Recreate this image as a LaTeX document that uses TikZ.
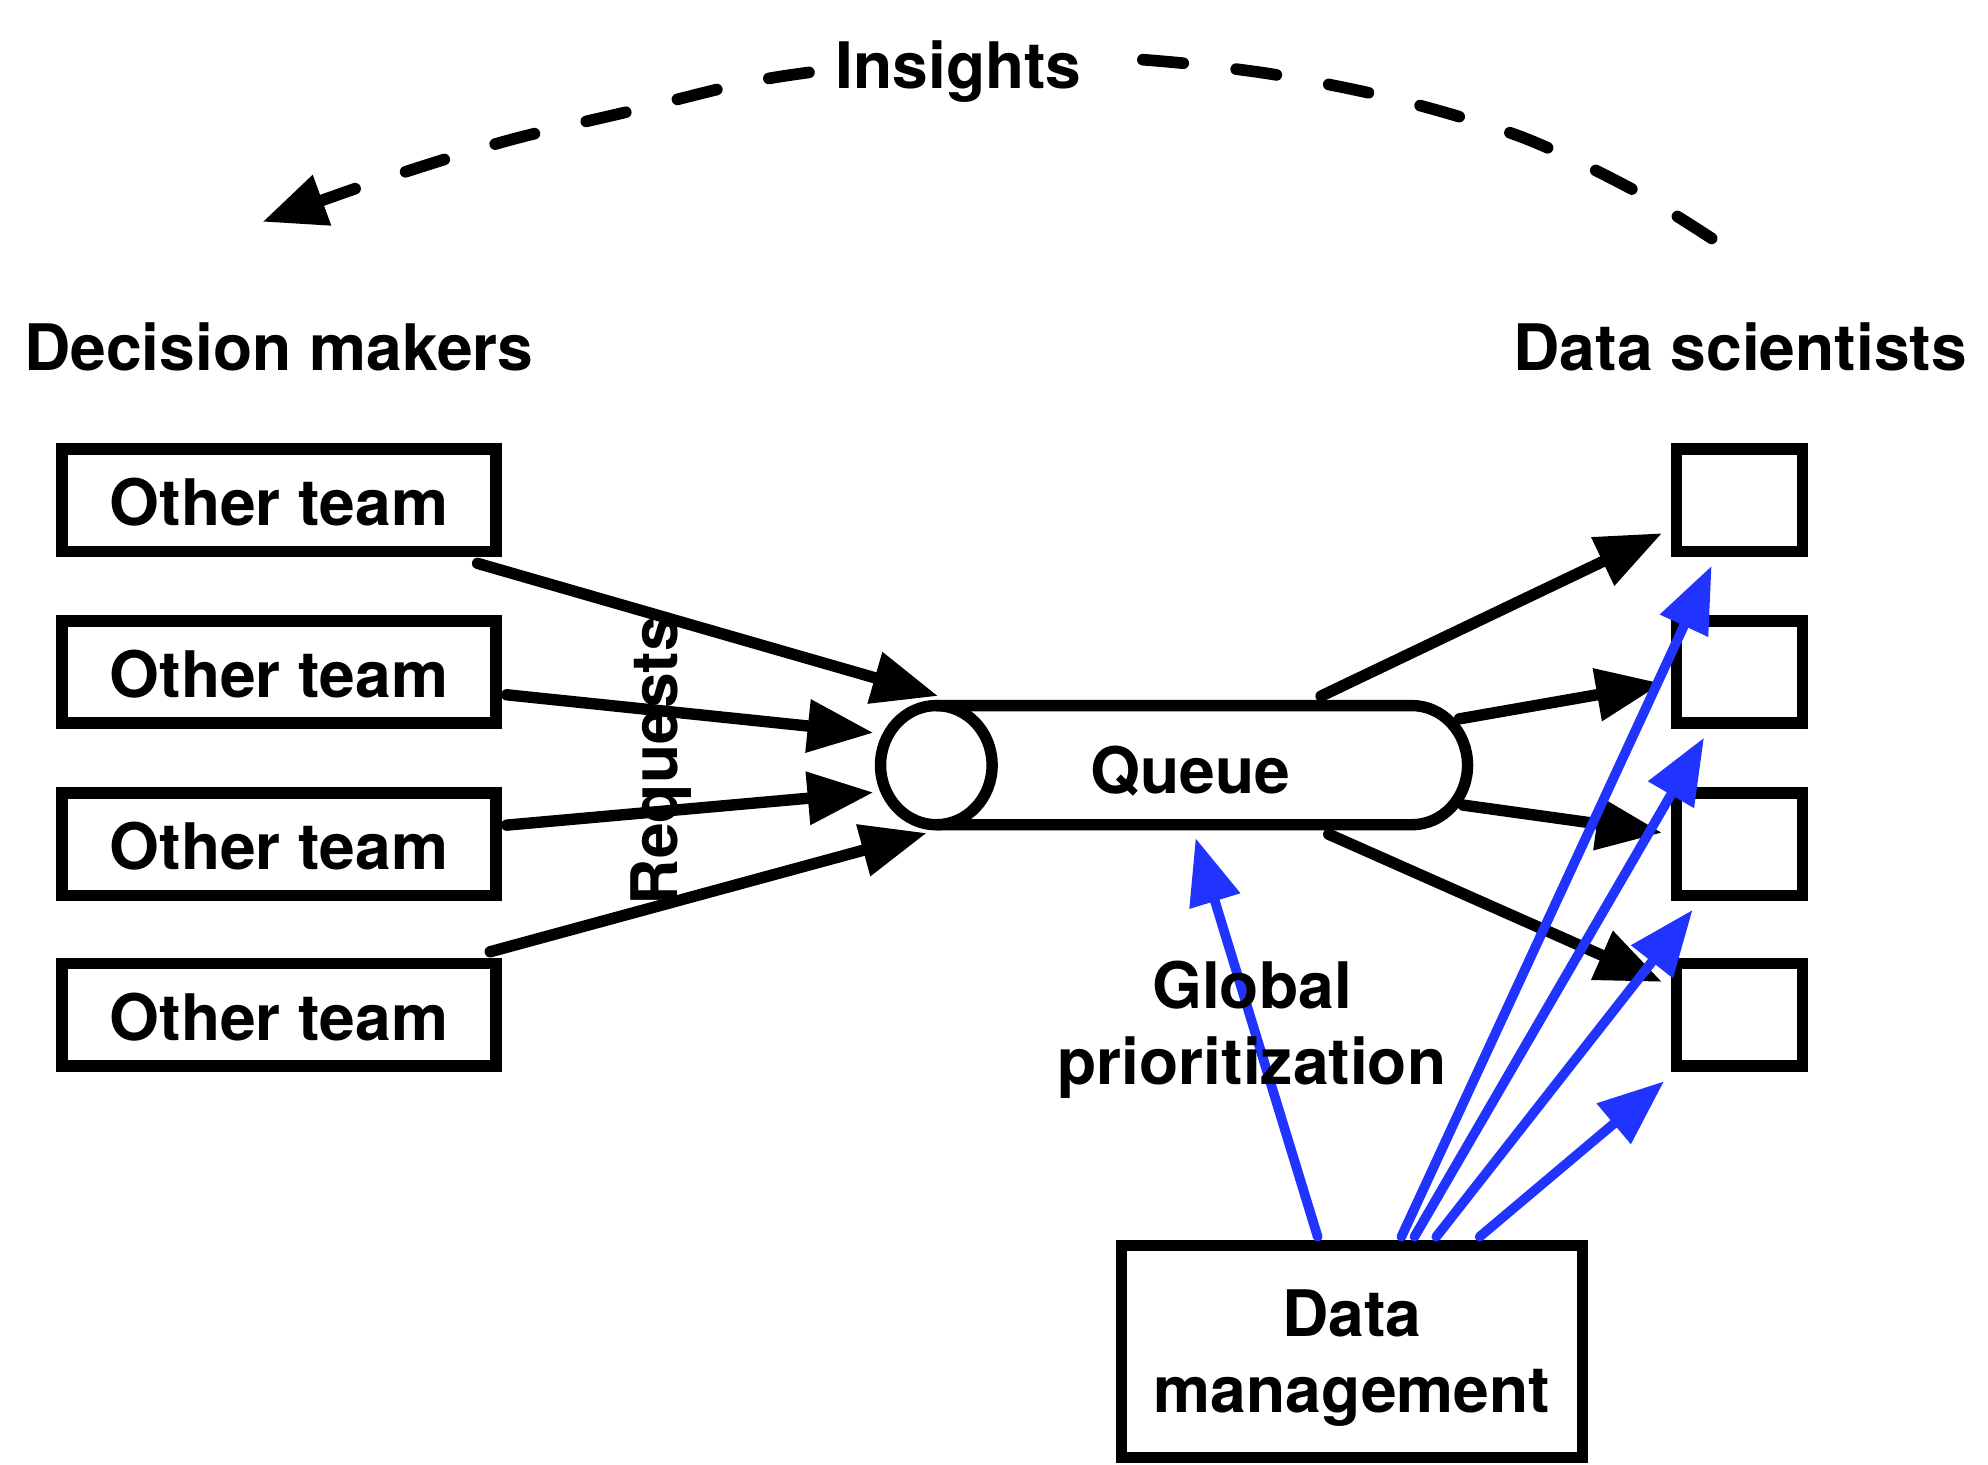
\documentclass[tikz,border=0pt]{standalone}
\usepackage{fontspec}
\setmainfont{TeX Gyre Heros}
\usetikzlibrary{arrows.meta}
\definecolor{dmblue}{RGB}{33,51,255}
\begin{document}
\begin{tikzpicture}[x=0.5pt,y=-0.5pt,
  lbl/.style={font=\fontsize{25.3}{30}\selectfont\bfseries, inner sep=0pt},
  teambox/.style={lbl, draw, line width=4.5pt, minimum width=171.2pt, minimum height=40.35pt, text height=20.2pt, text depth=0pt},
  dsbox/.style={draw, line width=4.5pt, minimum width=49.5pt, minimum height=40.35pt, inner sep=0pt},
  dmbox/.style={lbl, draw, line width=4.5pt, minimum width=181.8pt, minimum height=83.5pt, align=center, text depth=-4pt},
  flow/.style={line width=4.5pt, line cap=round, -{Triangle[length=26pt,width=20pt]}},
  bflow/.style={flow, draw=dmblue, line width=3.8pt},
  insight/.style={line width=4.6pt, line cap=round, dash pattern=on 16pt off 21pt, -{Triangle[length=25pt,width=20pt]}},
  cyl/.style={line width=4.5pt}
]
\fill[white] (0,0) rectangle (1568,1155);
\useasboundingbox (0,0) rectangle (1568,1155);

% group labels
\node[lbl, anchor=base] (dmk) at (220,292) {Decision makers};
\node[lbl, anchor=base] (dsc) at (1372.5,292) {Data scientists};

% other teams
\node[teambox] (ot1) at (220,394.5) {Other team};
\node[teambox] (ot2) at (220,530) {Other team};
\node[teambox] (ot3) at (220,665.8) {Other team};
\node[teambox] (ot4) at (220,800.5) {Other team};

% data scientists
\node[dsbox] (ds1) at (1372,394.5) {};
\node[dsbox] (ds2) at (1372,530) {};
\node[dsbox] (ds3) at (1372,665.8) {};
\node[dsbox] (ds4) at (1372,800.5) {};

% data management
\node[dmbox] (dm) at (1066.3,1066) {Data\\management};

% queue cylinder
\draw[cyl] (738.5,556.5) -- (1113.5,556.5) arc[start angle=90,end angle=-90,x radius=22pt,y radius=23.5pt] -- (738.5,650.5);
\draw[cyl] (738.5,603.5) ellipse [x radius=22pt, y radius=23.5pt];
\node[lbl, anchor=base] (queue) at (939,625.6) {Queue};

\coordinate (qin1) at (740,549);
\coordinate (qin2) at (689,578);
\coordinate (qin3) at (689,625);
\coordinate (qin4) at (731,657);
\coordinate (qout1) at (1042,549);
\coordinate (qout2) at (1151,567);
\coordinate (qout3) at (1154,635);
\coordinate (qout4) at (1048,658);
\coordinate (qbot) at (943,661);

% requests
\draw[flow] ([shift={(-19,5)}]ot1.south east) -- (qin1);
\draw[flow] ([shift={(4,18)}]ot2.east) -- (qin2);
\draw[flow] ([shift={(4,-15)}]ot3.east) -- (qin3);
\draw[flow] ([shift={(-9,-5)}]ot4.north east) -- (qin4);

% queue to data scientists
\draw[flow] (qout1) -- ([shift={(-7,26)}]ds1.west);
\draw[flow] (qout2) -- ([shift={(-7,9)}]ds2.west);
\draw[flow] (qout3) -- ([shift={(-7,-9)}]ds3.west);
\draw[flow] (qout4) -- ([shift={(-7,-26)}]ds4.west);

% data management arrows
\draw[bflow] ([shift={(-27,-2.5)}]dm.north) -- (qbot);
\draw[bflow] ([shift={(39,-2.5)}]dm.north) -- ([shift={(-22,7)}]ds1.south);
\draw[bflow] ([shift={(49.3,-2.5)}]dm.north) -- ([shift={(-28,7)}]ds2.south);
\draw[bflow] ([shift={(66.5,-2.5)}]dm.north) -- ([shift={(-37,7)}]ds3.south);
\draw[bflow] ([shift={(100.7,-2.5)}]dm.north) -- ([shift={(-5.5,7.5)}]ds4.south west);

\node[lbl, anchor=base, rotate=90] (req) at (534,600) {Requests};
\node[lbl, align=center, text depth=0pt] (gp) at (987.5,807) {Global\\prioritization};

% insights
\coordinate (insR) at (1350,188);
\coordinate (insL) at (207,175);
\draw[insight] plot[smooth] coordinates {(insR) (1285,148) (1200,108) (1100,78) (1000,58) (900,47) (800,44) (700,50) (600,63) (500,87) (400,111) (300,142) (insL)};
\node[lbl, anchor=base, fill=white, inner xsep=8pt, inner ysep=2pt] (ins) at (756,69.7) {Insights};
\end{tikzpicture}
\end{document}
